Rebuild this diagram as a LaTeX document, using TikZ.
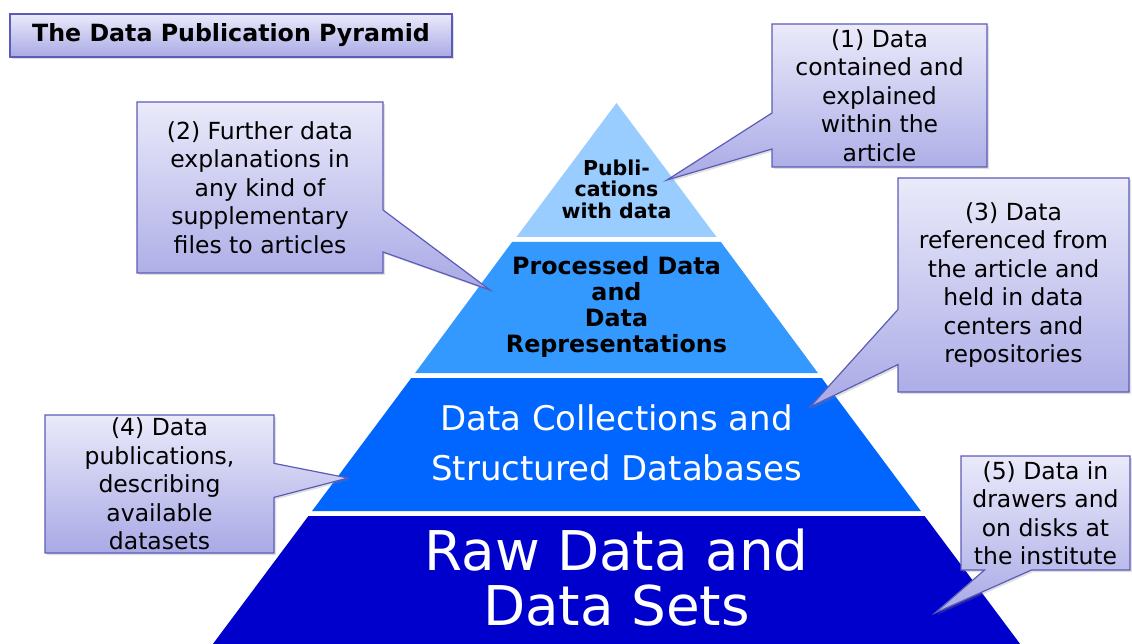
\documentclass[tikz,border=0pt]{standalone}
\usepackage{fontspec}
\setmainfont{DejaVu Sans}
\usetikzlibrary{shapes.callouts,shadows}

\definecolor{boxtop}{HTML}{EAEAFA}
\definecolor{boxbot}{HTML}{A9A9E6}
\definecolor{boxline}{HTML}{5C5CB8}
\definecolor{tierone}{HTML}{99CCFF}
\definecolor{tiertwo}{HTML}{3399FF}
\definecolor{tierthree}{HTML}{0066FF}
\definecolor{tierfour}{HTML}{0000CC}

\tikzset{
  panel/.style={draw=boxline, line width=1.2pt, top color=boxtop, bottom color=boxbot,
    align=center, inner sep=0pt, text=black,
    drop shadow={opacity=0.25, shadow xshift=2pt, shadow yshift=-2pt}},
  note/.style={panel, rectangle callout, font=\fontsize{23.5}{28.5}\selectfont},
}

\begin{document}
\begin{tikzpicture}[x=1pt,y=-1pt]
  \useasboundingbox (0,0) rectangle (1132,644);

  % pyramid
  \fill[tierone] (616.5,103) -- (716.5,237) -- (516.5,237) -- cycle;
  \fill[tiertwo] (512.1,242) -- (720.9,242) -- (817.9,373) -- (415.1,373) -- cycle;
  \fill[tierthree] (411.3,378) -- (821.7,378) -- (920.9,511) -- (312.1,511) -- cycle;
  \fill[tierfour] (308.4,516) -- (924.6,516) -- (1020.1,644) -- (212.9,644) -- cycle;

  \node[align=center, font=\bfseries\fontsize{20.5}{21.5}\selectfont] (pubs) at (616.5,189) {Publi-\\cations\\with data};
  \node[align=center, font=\bfseries\fontsize{23.8}{26}\selectfont] (proc) at (616.5,307) {Processed Data\\and\\Data\\Representations};
  \node[align=center, text=white, font=\fontsize{34}{50}\selectfont] (coll) at (616.5,443) {Data Collections and\\Structured Databases};
  \node[align=center, text=white, font=\fontsize{54.8}{55}\selectfont] (raw) at (616.5,578) {Raw Data and\\Data Sets};

  \coordinate (tip1) at (667,180);
  \coordinate (tip2) at (490,290);
  \coordinate (tip3) at (810,407);
  \coordinate (tip4) at (348,478);
  \coordinate (tip5) at (935,613);

  % title
  \node[panel, rectangle, minimum width=442pt, minimum height=43pt,
    font=\bfseries\fontsize{23.7}{26}\selectfont] (title) at (231,35.5) {The Data Publication Pyramid};

  % callouts
  \node[note, callout absolute pointer={(tip1)}, callout pointer width=36pt,
    minimum width=215pt, minimum height=143pt] (inart) at (879.5,95.5)
    {(1) Data\\contained and\\explained\\within the\\article};
  \node[note, callout absolute pointer={(tip2)}, callout pointer width=42pt,
    minimum width=246pt, minimum height=171pt] (supp) at (260,187.5)
    {(2) Further data\\explanations in\\any kind of\\supplementary\\files to articles};
  \node[note, callout absolute pointer={(tip3)}, callout pointer width=55pt,
    minimum width=231pt, minimum height=214pt] (repo) at (1013.5,285)
    {(3) Data\\referenced from\\the article and\\held in data\\centers and\\repositories};
  \node[note, callout absolute pointer={(tip4)}, callout pointer width=34pt,
    minimum width=229pt, minimum height=138pt] (dpub) at (159.5,484)
    {(4) Data\\publications,\\describing\\available\\datasets};
  \node[note, callout absolute pointer={(tip5)}, callout pointer width=47pt,
    minimum width=169pt, minimum height=114pt] (inst) at (1045.5,513)
    {(5) Data in\\drawers and\\on disks at\\the institute};
\end{tikzpicture}
\end{document}
